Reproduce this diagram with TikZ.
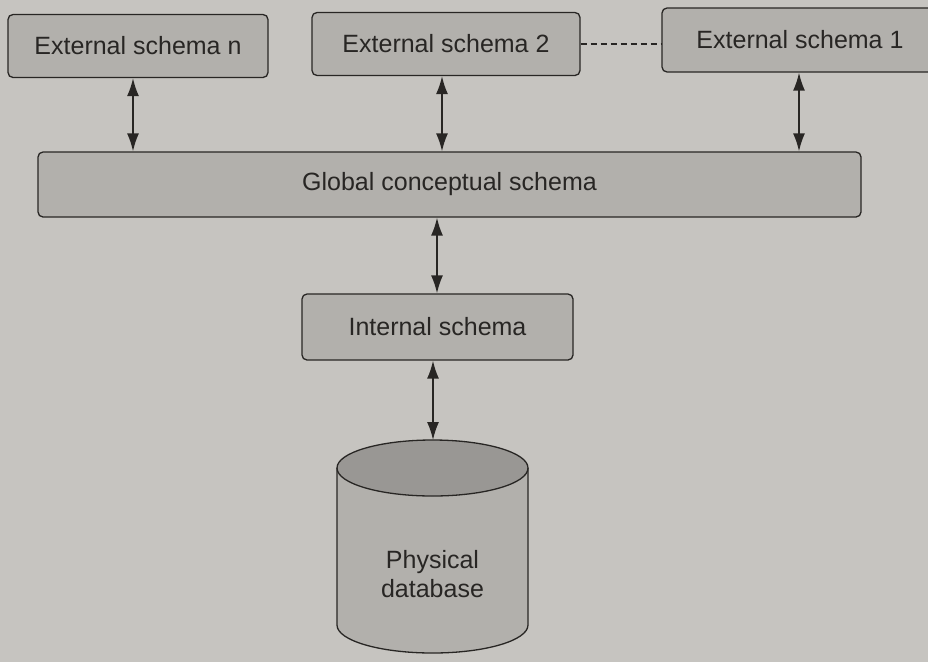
\documentclass[tikz,border=0pt]{standalone}
\usepackage{fontspec}
\setmainfont{Liberation Sans}
\usetikzlibrary{arrows.meta}
\definecolor{paper}{RGB}{198,196,192}
\definecolor{boxfill}{RGB}{178,176,172}
\definecolor{ink}{RGB}{40,38,36}
\tikzset{
  x=1pt, y=-1pt,
  schemabox/.style={draw=ink, line width=1.3pt, fill=boxfill, rounded corners=5pt,
    rectangle, inner sep=0pt, text=ink, font=\fontsize{25}{29}\selectfont},
  arr/.style={draw=ink, line width=1.6pt,
    {Latex[length=18pt,width=12pt]}-{Latex[length=18pt,width=12pt]}},
  dashline/.style={draw=ink, line width=1.1pt, dash pattern=on 6pt off 4pt}
}
\begin{document}
\begin{tikzpicture}
\fill[paper] (0,0) rectangle (928,662);
\useasboundingbox (0,0) rectangle (928,662);

\node[schemabox, minimum width=260pt, minimum height=63pt] (en) at (138,46) {External schema n};
\node[schemabox, minimum width=268pt, minimum height=63pt] (e2) at (446,44) {External schema 2};
\node[schemabox, minimum width=276pt, minimum height=64pt] (e1) at (800,40) {External schema 1};
\node[schemabox, minimum width=823pt, minimum height=65pt] (gc) at (449.5,184.5) {Global conceptual schema};
\node[schemabox, minimum width=271pt, minimum height=66pt] (is) at (437.5,327) {Internal schema};

% cylinder (physical database)
\fill[boxfill] (337,468) -- (337,625) arc[start angle=180, end angle=0, x radius=95.5, y radius=28] -- (528,468) -- cycle;
\fill[boxfill!82!ink] (432.5,468) ellipse[x radius=95.5, y radius=28];
\draw[ink, line width=1.3pt] (432.5,468) ellipse[x radius=95.5, y radius=28];
\draw[ink, line width=1.3pt] (337,468) -- (337,625) arc[start angle=180, end angle=0, x radius=95.5, y radius=28] -- (528,468);
\coordinate (dbtop) at (433,440);
\node[text=ink, font=\fontsize{25}{29}\selectfont, align=center] (db) at (432.5,574) {Physical\\database};

% connectors
\draw[arr] ([xshift=-5pt]en.south) -- ([xshift=-5pt]en.south |- gc.north);
\draw[arr] ([xshift=-4pt]e2.south) -- ([xshift=-4pt]e2.south |- gc.north);
\draw[arr] ([xshift=-1pt]e1.south) -- ([xshift=-1pt]e1.south |- gc.north);
\draw[arr] ([xshift=-0.5pt]is.north |- gc.south) -- ([xshift=-0.5pt]is.north);
\draw[arr] ([xshift=-4.5pt]is.south) -- (dbtop);
\draw[dashline] (e2.east) -- (e2.east -| e1.west);
\end{tikzpicture}
\end{document}
